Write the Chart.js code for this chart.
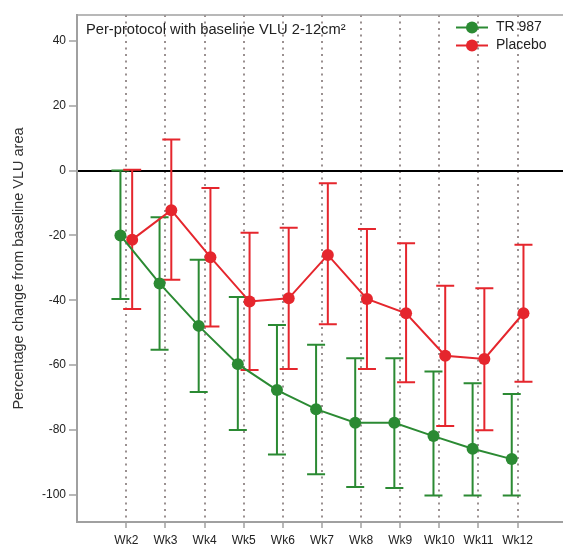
<!DOCTYPE html>
<html lang="en">
<head>
<meta charset="UTF-8">
<title>Percentage change from baseline VLU area</title>
<script src="https://cdn.jsdelivr.net/npm/chart.js"></script>
<style>
  body { margin: 0; background: #fff; }
  #chart { display: block; }
</style>
</head>
<body>
<canvas id="chart" width="563" height="545"></canvas>
<script>
// weeks and tick labels
const weeks = [2, 3, 4, 5, 6, 7, 8, 9, 10, 11, 12];
const weekLabels = ['Wk2', 'Wk3', 'Wk4', 'Wk5', 'Wk6', 'Wk7', 'Wk8', 'Wk9', 'Wk10', 'Wk11', 'Wk12'];
const yTicks = [40, 20, 0, -20, -40, -60, -80, -100];

// TR 987 (mean, upper and lower end of error bar)
const trMean  = [-20, -34.8, -47.9, -59.7, -67.7, -73.6, -77.8, -77.8, -81.9, -85.8, -89.0];
const trUpper = [0, -14.4, -27.5, -39.0, -47.6, -53.7, -57.9, -57.9, -62.0, -65.6, -68.9];
const trLower = [-39.6, -55.3, -68.3, -80.0, -87.6, -93.7, -97.6, -97.9, -100.2, -100.2, -100.2];

// Placebo
const placeboMean  = [-21.3, -12.2, -26.7, -40.4, -39.4, -26.0, -39.6, -44.0, -57.1, -58.1, -44.0];
const placeboUpper = [0.3, 9.6, -5.4, -19.2, -17.6, -3.9, -18.0, -22.4, -35.5, -36.3, -22.9];
const placeboLower = [-42.7, -33.7, -48.1, -61.5, -61.2, -47.4, -61.2, -65.3, -78.8, -80.1, -65.1];

const GREEN = '#2b8a33';
const RED = '#e5262d';
const DODGE = 0.15; // side shift so the two series do not overlap

function points(mean, upper, lower, shift) {
    return weeks.map((w, i) => ({ x: w + shift, y: mean[i], hi: upper[i], lo: lower[i] }));
}

const errorBars = {
    id: 'errorBars',
    beforeDatasetsDraw(chart) {
        const { ctx, scales: { x, y } } = chart;
        chart.data.datasets.forEach(ds => {
            ctx.save();
            ctx.strokeStyle = ds.borderColor;
            ctx.lineWidth = 2;
            ds.data.forEach(p => {
                const px = x.getPixelForValue(p.x);
                const top = y.getPixelForValue(p.hi);
                const bot = y.getPixelForValue(p.lo);
                ctx.beginPath();
                ctx.moveTo(px, top);
                ctx.lineTo(px, bot);
                ctx.moveTo(px - 9, top);
                ctx.lineTo(px + 9, top);
                ctx.moveTo(px - 9, bot);
                ctx.lineTo(px + 9, bot);
                ctx.stroke();
            });
            ctx.restore();
        });
    }
};

// title and legend sit inside the plot, plus the top frame line
const overlay = {
    id: 'overlay',
    afterDraw(chart) {
        const { ctx, chartArea: a } = chart;
        ctx.save();
        ctx.strokeStyle = '#a0a0a0';
        ctx.lineWidth = 1.5;
        ctx.beginPath();
        ctx.moveTo(a.left, a.top);
        ctx.lineTo(a.right, a.top);
        ctx.stroke();

        ctx.fillStyle = '#222';
        ctx.font = '14.7px "Liberation Sans", Arial, sans-serif';
        ctx.textBaseline = 'alphabetic';
        ctx.fillText('Per-protocol with baseline VLU 2-12cm\u00b2', a.left + 9, a.top + 19);

        chart.data.datasets.forEach((ds, i) => {
            const ly = a.top + 12.5 + i * 18;
            const lx = a.right - 107;
            ctx.strokeStyle = ds.borderColor;
            ctx.lineWidth = 2;
            ctx.beginPath();
            ctx.moveTo(lx, ly);
            ctx.lineTo(lx + 32, ly);
            ctx.stroke();
            ctx.fillStyle = ds.backgroundColor;
            ctx.beginPath();
            ctx.arc(lx + 16, ly, 6, 0, Math.PI * 2);
            ctx.fill();
            ctx.fillStyle = '#222';
            ctx.font = '14px "Liberation Sans", Arial, sans-serif';
            ctx.textBaseline = 'middle';
            ctx.fillText(ds.label, lx + 40, ly);
        });
        ctx.restore();
    }
};

Chart.defaults.font.family = '"Liberation Sans", Arial, sans-serif';
Chart.defaults.color = '#222';

new Chart(document.getElementById('chart'), {
    type: 'scatter',
    data: {
        datasets: [
            {
                label: 'TR 987',
                data: points(trMean, trUpper, trLower, -DODGE),
                showLine: true,
                borderColor: GREEN,
                backgroundColor: GREEN,
                borderWidth: 2,
                pointRadius: 6,
                pointBorderWidth: 0
            },
            {
                label: 'Placebo',
                data: points(placeboMean, placeboUpper, placeboLower, DODGE),
                showLine: true,
                borderColor: RED,
                backgroundColor: RED,
                borderWidth: 2,
                pointRadius: 6,
                pointBorderWidth: 0
            }
        ]
    },
    options: {
        responsive: false,
        animation: false,
        layout: { autoPadding: false, padding: { top: 15, right: 0, bottom: 0, left: 0 } },
        plugins: {
            legend: { display: false },
            tooltip: { enabled: false }
        },
        scales: {
            x: {
                type: 'linear',
                min: 0.74,
                max: 13.16,
                afterBuildTicks: scale => { scale.ticks = weeks.map(v => ({ value: v })); },
                afterFit: scale => { scale.height = 23; },
                ticks: {
                    font: { size: 12 },
                    padding: 5,
                    maxRotation: 0,
                    callback: (v) => weekLabels[weeks.indexOf(v)]
                },
                grid: {
                    color: '#9a9090',
                    lineWidth: 2,
                    tickBorderDash: [],
                    tickColor: '#a0a0a0',
                    tickWidth: 1.5,
                    tickLength: 6
                },
                border: { color: '#a0a0a0', width: 2, dash: [2, 4.5] }
            },
            y: {
                min: -108.4,
                max: 48,
                afterBuildTicks: scale => { scale.ticks = yTicks.map(v => ({ value: v })); },
                afterFit: scale => { scale.width = 77; },
                ticks: { font: { size: 12 }, padding: 3 },
                title: {
                    display: true,
                    text: 'Percentage change from baseline VLU area',
                    font: { size: 14.5 },
                    color: '#333',
                    padding: { top: 10, bottom: 0 }
                },
                grid: {
                    color: ctx => ctx.tick && ctx.tick.value === 0 ? '#000' : 'rgba(0,0,0,0)',
                    lineWidth: ctx => ctx.tick && ctx.tick.value === 0 ? 2 : 0,
                    tickColor: '#a0a0a0',
                    tickWidth: 1.5,
                    tickLength: 8
                },
                border: { color: '#a0a0a0', width: 2 }
            }
        }
    },
    plugins: [errorBars, overlay]
});
</script>
</body>
</html>
